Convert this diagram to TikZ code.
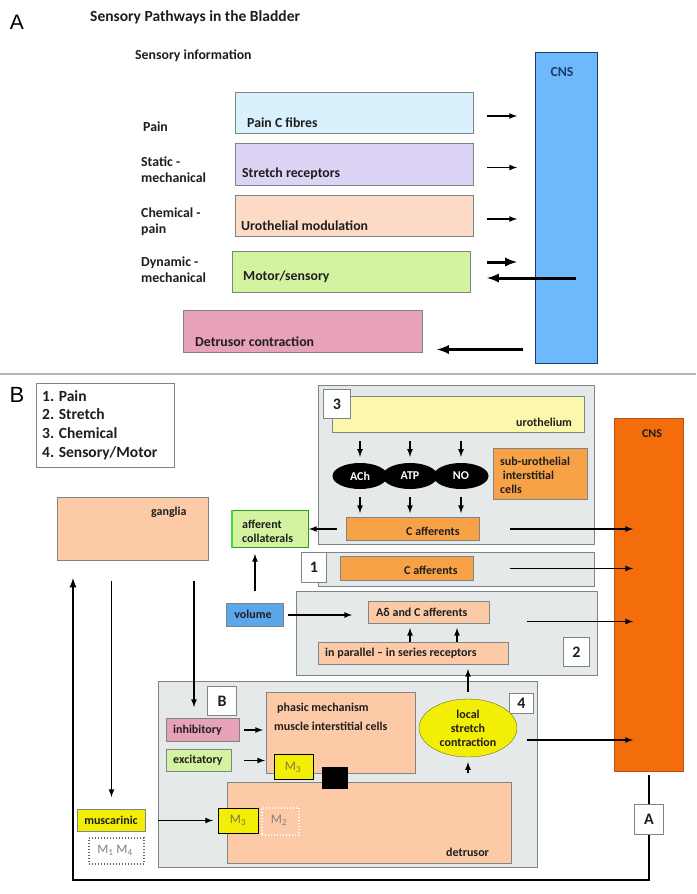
\documentclass[tikz,border=0pt]{standalone}
\usepackage{fontspec}
\setmainfont{Carlito}
\newfontfamily\arialfont{Liberation Sans}
\usetikzlibrary{calc, shapes.geometric, positioning}
\definecolor{txtdark}{HTML}{1E1E1E}
\definecolor{boxline}{HTML}{7D8585}
\definecolor{painblue}{HTML}{D9F1FC}
\definecolor{lilac}{HTML}{DDD4F5}
\definecolor{peachlt}{HTML}{FCDAC6}
\definecolor{peach}{HTML}{FCCAA6}
\definecolor{lime}{HTML}{D3F3A0}
\definecolor{rose}{HTML}{E8A2B8}
\definecolor{cnsblue}{HTML}{6DB9FB}
\definecolor{navy}{HTML}{1F3A6E}
\definecolor{cnsorange}{HTML}{F36D0D}
\definecolor{cnsedge}{HTML}{B8520E}
\definecolor{afforange}{HTML}{F8A247}
\definecolor{panelgrey}{HTML}{E6E9E9}
\definecolor{paleyellow}{HTML}{FBF8AC}
\definecolor{yell}{HTML}{F3EE05}
\definecolor{volblue}{HTML}{5CA7EB}
\definecolor{mtext}{HTML}{7A7A45}
\definecolor{sepgrey}{HTML}{B0B4B4}
\definecolor{brightgreen}{HTML}{3FD83F}
\definecolor{ellline}{HTML}{6E6E20}
\tikzstyle{box}=[draw=boxline, line width=1pt, inner sep=0pt, anchor=north west]
\tikzstyle{panel}=[box, fill=panelgrey]
\tikzstyle{numbox}=[box, fill=white, text=txtdark, font=\fontsize{16}{18}\selectfont\bfseries]
\tikzstyle{txt}=[inner sep=0pt, text=txtdark, font=\fontsize{13.8}{16}\selectfont\bfseries]
\tikzstyle{small}=[inner sep=0pt, text=txtdark, font=\fontsize{12}{14}\selectfont\bfseries]
\tikzstyle{mlab}=[inner sep=0pt, text=mtext, font=\fontsize{13}{15}\selectfont]
\tikzstyle{arr}=[-latex, line width=1.6pt]
\tikzstyle{thickarr}=[-latex, line width=3pt]

\begin{document}
\begin{tikzpicture}[x=1pt, y=-1pt]
\fill[white] (0,0) rectangle (696,894);
\useasboundingbox (0,0) rectangle (696,894);
% panel A
\node[inner sep=0pt, font=\arialfont\fontsize{21}{21}\selectfont] (capA) at (17,22) {A};
\node[txt, anchor=west, font=\fontsize{15.5}{18}\selectfont\bfseries] (title) at (90,17) {Sensory Pathways in the Bladder};
\node[txt, anchor=west] (info) at (135,56) {Sensory information};
\node[txt, anchor=west] (rPain) at (143,127) {Pain};
\node[txt, anchor=west, align=left] (rStatic) at (141,170) {Static -\\mechanical};
\node[txt, anchor=west, align=left] (rChem) at (141,222) {Chemical -\\pain};
\node[txt, anchor=west, align=left] (rDyn) at (141,270) {Dynamic -\\mechanical};

\node[box, fill=painblue, minimum width=238pt, minimum height=41pt] (painC) at (235,92) {};
\node[box, fill=lilac, minimum width=238pt, minimum height=42pt] (stretch) at (235,143) {};
\node[box, fill=peachlt, minimum width=238pt, minimum height=41pt] (urmod) at (235,195) {};
\node[box, fill=lime, minimum width=238pt, minimum height=41pt] (motor) at (232,251) {};
\node[box, fill=rose, minimum width=239pt, minimum height=42pt] (detcon) at (183,310) {};
\node[box, fill=cnsblue, draw=navy, minimum width=62pt, minimum height=311pt] (cnsA) at (535,52) {};
\node[txt, text=navy] (cnsAtxt) at (562,72) {CNS};

\node[txt, anchor=west] (painCtxt) at (247,123) {Pain C fibres};
\node[txt, anchor=west] (stretchtxt) at (242,174) {Stretch receptors};
\node[txt, anchor=west] (urmodtxt) at (241,226) {Urothelial modulation};
\node[txt, anchor=west] (motortxt) at (243,277) {Motor/sensory};
\node[txt, anchor=west] (detcontxt) at (195,342) {Detrusor contraction};

\foreach \b in {painC, stretch, urmod}
  \draw[arr] ($(\b.east)+(13,3)$) -- ($(\b.east -| cnsA.west)+(-18,3)$);
\draw[thickarr] ($(motor.east)+(16,-10)$) -- ($(motor.east -| cnsA.west)+(-18,-10)$);
\draw[thickarr] ($(motor.east -| cnsA.west)+(41,6)$) -- ($(motor.east)+(16,6)$);
\draw[thickarr] ($(detcon.east -| cnsA.west)+(-12,18)$) -- ($(detcon.east)+(14,18)$);

\draw[sepgrey, line width=1.2pt] (0,374) -- (696,374);

% panel B
\node[inner sep=0pt, font=\arialfont\fontsize{22}{22}\selectfont] (capB) at (17,395) {B};
\node[box, minimum width=138pt, minimum height=84pt] (legend) at (36,383) {};
\node[txt, anchor=north west, align=left, font=\fontsize{15.5}{18.7}\selectfont\bfseries] (legendtxt) at (42,390) {1. Pain\\2. Stretch\\3. Chemical\\4. Sensory/Motor};

\node[box, fill=peach, minimum width=151pt, minimum height=63pt] (ganglia) at (57,497) {};
\node[small, anchor=west] (gangliatxt) at (151,512) {ganglia};
\node[box, draw=brightgreen!70!black, fill=lime, minimum width=76pt, minimum height=37pt] (affcoll) at (232,510) {};
\draw[brightgreen, line width=2.5pt] (affcoll.north west) -- (affcoll.south west);
\node[small, anchor=west, align=left] (affcolltxt) at (242,531) {afferent\\collaterals};

% 3
\node[panel, minimum width=276pt, minimum height=159pt] (panel3) at (318,385) {};
\node[box, fill=paleyellow, minimum width=252pt, minimum height=36pt] (uro) at (332,396) {};
\node[numbox, minimum width=27pt, minimum height=29pt] (num3) at (323,389) {3};
\node[small, anchor=west] (urotxt) at (516,422) {urothelium};
\node[ellipse, fill=black, text=white, minimum width=55pt, minimum height=26pt, inner sep=0pt, font=\fontsize{12}{14}\selectfont\bfseries] (ach) at (360,476) {ACh};
\node[ellipse, fill=black, text=white, minimum width=55pt, minimum height=26pt, inner sep=0pt, font=\fontsize{12}{14}\selectfont\bfseries] (atp) at (410,476) {ATP};
\node[ellipse, fill=black, text=white, minimum width=55pt, minimum height=26pt, inner sep=0pt, font=\fontsize{12}{14}\selectfont\bfseries] (no) at (461,476) {NO};
\node[box, fill=afforange, minimum width=94pt, minimum height=51pt] (subur) at (493,448) {};
\node[small, anchor=west, align=left] (suburtxt) at (500,475) {sub-urothelial\\~interstitial\\cells};
\node[box, fill=afforange, minimum width=133pt, minimum height=23pt] (caff3) at (346,517) {};
\node[small, anchor=west] (caff3txt) at (406,531) {C afferents};
\foreach \m in {ach, atp, no} {
  \draw[arr] (uro.south -| \m.north) ++(0,8) -- ($(\m.north)+(0,-6)$);
  \draw[arr] ($(\m.south)+(0,8)$) -- ($(caff3.north -| \m.south)+(0,-4)$);
}

% 1
\node[panel, minimum width=276pt, minimum height=34pt] (panel1) at (318,552) {};
\node[numbox, minimum width=25pt, minimum height=30pt] (num1) at (301,552) {1};
\node[box, fill=afforange, minimum width=133pt, minimum height=24pt] (caff1) at (340,556) {};
\node[small, anchor=west] (caff1txt) at (404,570) {C afferents};

% 2
\node[panel, minimum width=301pt, minimum height=84pt] (panel2) at (296,591) {};
\node[numbox, minimum width=26pt, minimum height=29pt] (num2) at (563,637) {2};
\node[box, fill=peach, minimum width=121pt, minimum height=22pt] (adc) at (368,601) {};
\node[small, anchor=west] (adctxt) at (376,612) {Aδ and C afferents};
\node[box, fill=peach, minimum width=190pt, minimum height=22pt] (inpar) at (318,642) {};
\node[small, anchor=west] (inpartxt) at (325,653) {in parallel -- in series receptors};
\coordinate (upL) at (410,642);
\coordinate (upR) at (457,642);
\draw[arr] (upL) -- ($(upL |- adc.south)+(0,4)$);
\draw[arr] (upR) -- ($(upR |- adc.south)+(0,4)$);
\node[box, fill=volblue, minimum width=57pt, minimum height=23pt] (volume) at (226,603) {};
\node[small] (volumetxt) at (253,614) {volume};

% 4 and B
\node[panel, minimum width=379pt, minimum height=186pt] (panel4) at (158,681) {};
\node[numbox, minimum width=29pt, minimum height=29pt] (numB) at (207,686) {B};
\node[numbox, minimum width=24pt, minimum height=20pt] (num4) at (509,693) {4};
\node[box, fill=rose, minimum width=73pt, minimum height=23pt] (inhib) at (166,718) {};
\node[small, anchor=west] (inhibtxt) at (173,730) {inhibitory};
\node[box, fill=lime, minimum width=65pt, minimum height=22pt] (excit) at (166,749) {};
\node[small, anchor=west] (excittxt) at (173,760) {excitatory};
\node[box, fill=peach, minimum width=149pt, minimum height=81pt] (phasic) at (266,692) {};
\node[small, anchor=west] (phasictxt) at (277,708) {phasic mechanism};
\node[small, anchor=west] (musctxt2) at (274,726) {muscle interstitial cells};
\node[box, fill=peach, minimum width=284pt, minimum height=81pt] (detr) at (227,782) {};
\node[small, anchor=west] (detrtxt) at (446,852) {detrusor};
\node[box, draw=black, fill=yell, minimum width=39pt, minimum height=25pt] (m3a) at (274,754) {};
\node[mlab] (m3atxt) at (293,767) {M\textsubscript{3}};
\node[box, draw=black, fill=black, minimum width=25pt, minimum height=21pt] (block) at (322,767) {};
\node[box, draw=black, fill=yell, minimum width=40pt, minimum height=25pt] (m3b) at (218,808) {};
\node[mlab] (m3btxt) at (238,820) {M\textsubscript{3}};
\node[box, draw=white, dotted, line width=2pt, minimum width=37pt, minimum height=27pt] (m2) at (261,807) {};
\node[mlab, text=gray] (m2txt) at (279,820) {M\textsubscript{2}};
\node[ellipse, draw=ellline, fill=yell, minimum width=98pt, minimum height=58pt, inner sep=0pt, align=center, text=txtdark, font=\fontsize{12}{14}\selectfont\bfseries] (lsc) at (468,728) {local\\stretch\\contraction};

\node[box, fill=yell, minimum width=68pt, minimum height=22pt] (musc) at (77,809) {};
\node[small] (musctxt) at (111,820) {muscarinic};
\node[box, draw=gray!80!black, dotted, line width=1.5pt, fill=white, minimum width=55pt, minimum height=26pt] (m14) at (88,837) {};
\node[mlab, text=gray] (m14txt) at (115,850) {M\textsubscript{1} M\textsubscript{4}};

% CNS
\node[box, draw=cnsedge, fill=cnsorange, minimum width=69pt, minimum height=353pt] (cnsB) at (614,418) {};
\node[small, text=txtdark] (cnsBtxt) at (652,434) {CNS};
\node[numbox, minimum width=29pt, minimum height=30pt] (numA) at (634,804) {A};

% connectors
\draw[arr] ($(caff3.west)+(-9,0)$) -- (affcoll.east);
\draw[arr] ($(caff3.east)+(30,0)$) -- ($(caff3.east -| cnsB.west)+(19,0)$);
\draw[arr] ($(caff1.east)+(36,0)$) -- ($(caff1.east -| cnsB.west)+(19,0)$);
\draw[arr] ($(adc.east)+(37,9)$) -- ($(adc.east -| cnsB.west)+(19,9)$);
\draw[arr] ($(lsc.east)+(10,12)$) -- ($(lsc.east -| cnsB.west)+(19,12)$);
\draw[arr, shorten <=4pt, shorten >=16pt] (volume.east) -- (volume.east -| adc.west);
\draw[arr, shorten <=12pt, shorten >=6pt] (volume.north) -- (volume.north |- affcoll.south);
\draw[arr, shorten <=7pt, shorten >=4pt] (lsc.north) -- (lsc.north |- inpar.south);
\draw[arr, shorten <=9pt, shorten >=5pt] (lsc.south |- detr.north) -- (lsc.south);
\draw[arr, shorten <=4pt, shorten >=3pt] (inhib.east) -- (inhib.east -| phasic.west);
\draw[arr, shorten <=12pt, shorten >=1pt] (excit.east) -- (excit.east -| phasic.west);
\draw[arr, shorten <=12pt, shorten >=5pt] (musc.east) -- (musc.east -| m3b.west);
\draw[arr, shorten <=20pt, shorten >=12pt] (ganglia.south -| musc.north) -- (musc.north);
\coordinate (gtap) at (194,560);
\draw[arr, shorten <=21pt, shorten >=11pt] (gtap) -- (gtap |- inhib.north);
\coordinate (loopL) at (73,880);
\draw[line width=1.8pt, shorten <=3pt] (cnsB.south) -- (numA.north);
\draw[-latex, line width=2.2pt, shorten >=17pt] (numA.south) |- (loopL) -- (loopL |- ganglia.south);
\end{tikzpicture}
\end{document}
